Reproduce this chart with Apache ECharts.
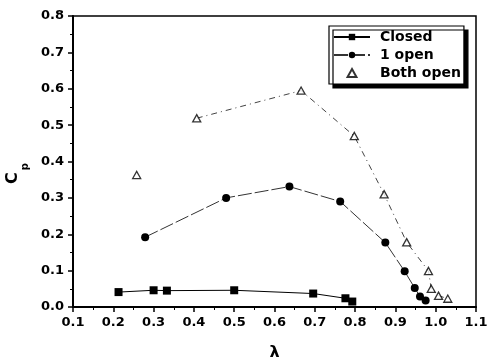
<!DOCTYPE html>
<html><head><meta charset="utf-8">
<script src="https://cdn.jsdelivr.net/npm/echarts@6/dist/echarts.min.js"></script>
<style>html,body{margin:0;padding:0;background:#fff}#c{width:493px;height:360px}</style>
</head><body><div id="c"></div>
<script>
var closedX = [0.213, 0.300, 0.333, 0.500, 0.696, 0.776, 0.793];
var closedY = [0.041, 0.046, 0.045, 0.046, 0.037, 0.024, 0.015];
var open1X = [0.279, 0.480, 0.637, 0.763, 0.875, 0.923, 0.948, 0.961, 0.975];
var open1Y = [0.192, 0.300, 0.331, 0.290, 0.177, 0.098, 0.052, 0.029, 0.018];
var bothX = [0.258, 0.407, 0.666, 0.798, 0.872, 0.928, 0.982, 0.989, 1.007, 1.030];
var bothY = [0.363, 0.519, 0.595, 0.470, 0.310, 0.178, 0.099, 0.050, 0.031, 0.023];
var xTicks = [0.1,0.2,0.3,0.4,0.5,0.6,0.7,0.8,0.9,1.0,1.1];
var yTicks = [0.0,0.1,0.2,0.3,0.4,0.5,0.6,0.7,0.8];

function pairs(xs, ys){ return xs.map(function(x,i){return [x, ys[i]];}); }
var FONT = 'DejaVu Sans';
var TRI = 'path://M5,0 L10,9 L0,9 Z';
var chart = echarts.init(document.getElementById('c'));
chart.setOption({
  animation: false,
  backgroundColor: '#fff',
  grid: {left: 73, right: 17, top: 16, bottom: 53, show: true, borderColor: '#000', borderWidth: 1.5,
         containLabel: false, outerBoundsMode: 'none'},
  xAxis: {
    type: 'value', min: 0.1, max: 1.1, interval: 0.1,
    name: 'λ', nameLocation: 'middle', nameGap: 38,
    nameTextStyle: {fontFamily: FONT, fontSize: 16, fontWeight: 'bold', color: '#000'},
    axisLine: {show: true, lineStyle: {color: '#000', width: 2}},
    axisTick: {show: true, length: 5, lineStyle: {color: '#000', width: 1.5}},
    minorTick: {show: true, splitNumber: 2, length: 3, lineStyle: {color: '#000', width: 1}},
    splitLine: {show: false},
    axisLabel: {margin: 9, fontFamily: FONT, fontSize: 13, fontWeight: 'bold', color: '#000',
      formatter: function(v){ var t = xTicks.filter(function(k){return Math.abs(k-v)<1e-6;}); return t.length ? t[0].toFixed(1) : ''; }}
  },
  yAxis: {
    type: 'value', min: 0, max: 0.8, interval: 0.1,
    name: '{c|C}{p|p}', nameLocation: 'middle', nameGap: 29, nameRotate: 90,
    nameTextStyle: {fontFamily: FONT, fontWeight: 'bold', color: '#000',
      rich: {c: {fontFamily: FONT, fontSize: 16, fontWeight: 'bold', color: '#000', lineHeight: 20},
             p: {fontFamily: FONT, fontSize: 10, fontWeight: 'bold', color: '#000', padding: [24,24,0,2], lineHeight: 10}}},
    axisLine: {show: true, lineStyle: {color: '#000', width: 2}},
    axisTick: {show: true, length: 5, lineStyle: {color: '#000', width: 1.5}},
    minorTick: {show: true, splitNumber: 2, length: 3, lineStyle: {color: '#000', width: 1}},
    splitLine: {show: false},
    axisLabel: {margin: 9, fontFamily: FONT, fontSize: 13, fontWeight: 'bold', color: '#000',
      formatter: function(v){ var t = yTicks.filter(function(k){return Math.abs(k-v)<1e-6;}); return t.length ? t[0].toFixed(1) : ''; }}
  },
  legend: {
    left: 329, top: 26, orient: 'vertical',
    data: ['Closed', '1 open', {name: 'Both open', icon: TRI}],
    backgroundColor: '#fff', borderColor: '#000', borderWidth: 1.2,
    shadowColor: '#000', shadowBlur: 0, shadowOffsetX: 4, shadowOffsetY: 4,
    padding: [4, 3, 4, 4], itemGap: 4, itemWidth: 36, itemHeight: 8,
    textStyle: {fontFamily: FONT, fontSize: 14, fontWeight: 'bold', color: '#000', padding: [0,0,0,5]}
  },
  series: [
    {name: 'Closed', type: 'line', data: pairs(closedX, closedY), symbol: 'rect', symbolSize: 8,
     itemStyle: {color: '#000'}, lineStyle: {color: '#000', width: 1}},
    {name: '1 open', type: 'line', data: pairs(open1X, open1Y), symbol: 'circle', symbolSize: 8,
     itemStyle: {color: '#000'}, lineStyle: {color: '#333', width: 1, type: [14, 3]}},
    {name: 'Both open line', type: 'line', data: pairs(bothX.slice(1), bothY.slice(1)), symbol: 'none',
     lineStyle: {color: '#444', width: 1, type: [6, 4, 1, 4]}, silent: true, z: 1},
    {name: 'Both open', type: 'scatter', data: pairs(bothX, bothY), symbol: TRI, symbolSize: 8,
     symbolKeepAspect: true,
     itemStyle: {color: '#fff', borderColor: '#000', borderWidth: 1.3}, z: 3}
  ]
});
</script></body></html>
